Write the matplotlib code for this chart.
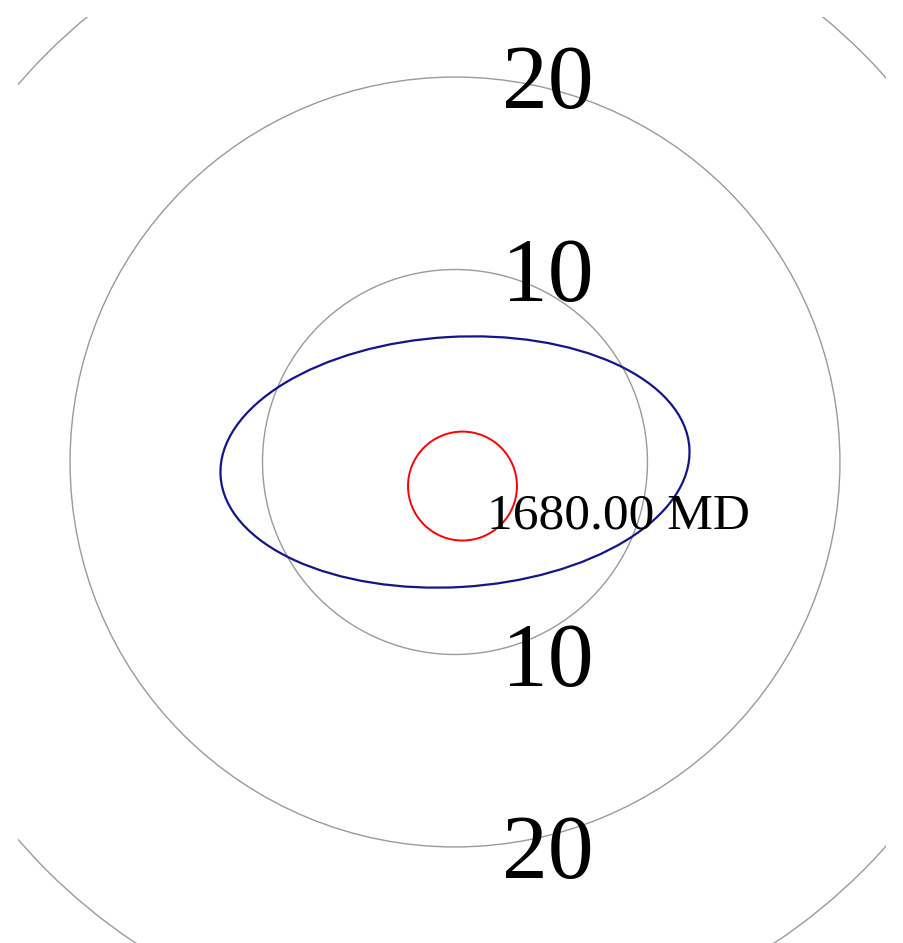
import numpy as np
import matplotlib.pyplot as plt
from matplotlib.patches import Circle, Ellipse

plt.rcParams['font.family'] = ['Liberation Serif', 'DejaVu Serif']

# range rings (m) and which of them get labels
rings = [10, 20, 30]
ring_labels = [10, 20]

# offset well ellipse of uncertainty
ell_center = (0.0, 0.0)
ell_semi_major = 12.2
ell_semi_minor = 6.5
ell_angle = 3.4  # degrees

# reference well position and its uncertainty radius
ref_center = (0.39, -1.25)
ref_radius = 2.83
depth_label = "1680.00 MD"

# =============================================================================

fig = plt.figure(figsize=(9.04, 9.43), dpi=100)
ax = fig.add_axes([18/904, 0, 868/904, 926/943])
ax.set_xlim(-22.70, 22.39)
ax.set_ylim(-24.99, 23.12)
ax.set_aspect('equal')
ax.axis('off')

for r in rings:
    ax.add_patch(Circle((0, 0), r, fill=False, ec='#9a9a9a', lw=1.0))

for r in ring_labels:
    ax.text(2.44, r - 1.62, str(r), fontsize=66, ha='left', va='baseline')
    ax.text(2.44, -r - 1.62, str(r), fontsize=66, ha='left', va='baseline')

ax.add_patch(Ellipse(ell_center, 2*ell_semi_major, 2*ell_semi_minor,
                     angle=ell_angle, fill=False, ec='#14148c', lw=1.6))
ax.add_patch(Circle(ref_center, ref_radius, fill=False, ec='red', lw=1.4))

ax.text(1.66, -3.43, depth_label, fontsize=37, ha='left', va='baseline')

plt.savefig('out.png', dpi=100)
